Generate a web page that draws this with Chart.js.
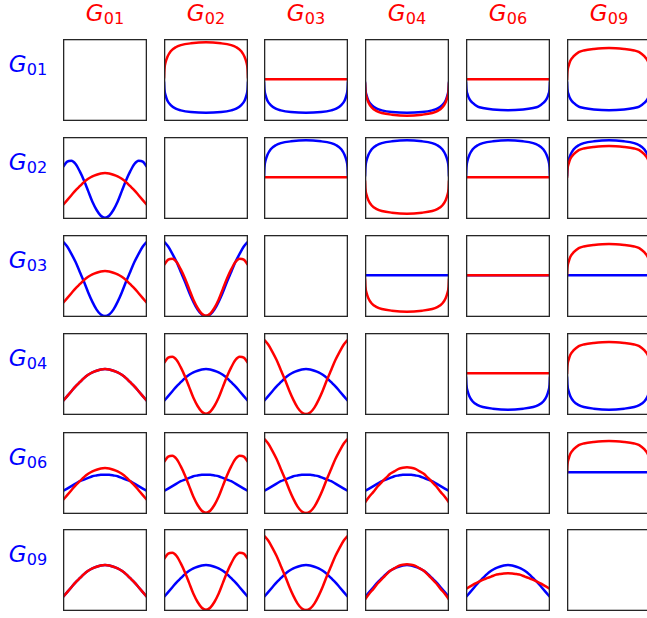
<!DOCTYPE html>
<html>
<head>
<meta charset="utf-8">
<script src="https://cdn.jsdelivr.net/npm/chart.js@4/dist/chart.umd.min.js"></script>
<style>
  html, body { margin: 0; padding: 0; background: #fff; }
  body { width: 647px; height: 618px; position: relative; overflow: hidden; }
  canvas.cell { position: absolute; }
  .lab {
    position: absolute;
    font-family: "DejaVu Sans", sans-serif;
    font-size: 23px;
    line-height: 23px;
    height: 23px;
    white-space: nowrap;
    transform: translateX(-50%);
  }
  .lab sub { font-size: 0.7em; font-style: normal; vertical-align: -3px; line-height: 0; }
  .top { color: #ff0000; }
  .side { color: #0000ff; }
</style>
</head>
<body>
<script>
// etiquetas de filas y columnas
const COLS = ["01", "02", "03", "04", "06", "09"];
const ROWS = ["01", "02", "03", "04", "06", "09"];

// posiciones x de las muestras
const WAVE_X = [0, 0.05, 0.1, 0.15, 0.2, 0.25, 0.3, 0.35, 0.4, 0.45, 0.5, 0.55, 0.6, 0.65, 0.7, 0.75, 0.8, 0.85, 0.9, 0.95, 1];
const EDGE_X = [0, 0.005, 0.02, 0.04, 0.08, 0.14, 0.2, 0.32, 0.5, 0.68, 0.8, 0.86, 0.92, 0.96, 0.98, 0.995, 1];
const FLAT_X = [0, 1];

// curvas (0 = borde inferior, 1 = borde superior)
const HUMP = [0.17, 0.23, 0.29, 0.35, 0.40, 0.45, 0.49, 0.52, 0.54, 0.555, 0.56, 0.555, 0.54, 0.52, 0.49, 0.45, 0.40, 0.35, 0.29, 0.23, 0.17];
const HUMP_TALL = [0.14, 0.21, 0.27, 0.335, 0.39, 0.44, 0.49, 0.52, 0.55, 0.565, 0.57, 0.565, 0.55, 0.52, 0.49, 0.44, 0.39, 0.335, 0.27, 0.21, 0.14];
const FLAT_HUMP = [0.28, 0.31, 0.34, 0.37, 0.40, 0.42, 0.44, 0.46, 0.47, 0.478, 0.48, 0.478, 0.47, 0.46, 0.44, 0.42, 0.40, 0.37, 0.34, 0.31, 0.28];
const FLAT_HUMP_LOW = [0.27, 0.30, 0.33, 0.356, 0.38, 0.40, 0.42, 0.44, 0.45, 0.458, 0.46, 0.458, 0.45, 0.44, 0.42, 0.40, 0.38, 0.356, 0.33, 0.30, 0.27];
const DOUBLE = [0.635, 0.70, 0.71, 0.67, 0.58, 0.47, 0.34, 0.21, 0.11, 0.04, 0.015, 0.04, 0.11, 0.21, 0.34, 0.47, 0.58, 0.67, 0.71, 0.70, 0.635];
const FULL = [0.92, 0.86, 0.77, 0.67, 0.55, 0.43, 0.30, 0.185, 0.09, 0.03, 0.012, 0.03, 0.09, 0.185, 0.30, 0.43, 0.55, 0.67, 0.77, 0.86, 0.92];

const RISE = [0.52, 0.63, 0.72, 0.78, 0.85, 0.90, 0.925, 0.947, 0.96, 0.947, 0.925, 0.90, 0.85, 0.78, 0.72, 0.63, 0.52];
const RISE_LOW = [0.5, 0.6, 0.675, 0.735, 0.79, 0.84, 0.86, 0.878, 0.89, 0.878, 0.86, 0.84, 0.79, 0.735, 0.675, 0.6, 0.5];
const DROP = [0.48, 0.385, 0.31, 0.25, 0.195, 0.15, 0.13, 0.11, 0.10, 0.11, 0.13, 0.15, 0.195, 0.25, 0.31, 0.385, 0.48];
const DROP_SHALLOW = [0.48, 0.39, 0.32, 0.27, 0.22, 0.175, 0.158, 0.14, 0.13, 0.14, 0.158, 0.175, 0.22, 0.27, 0.32, 0.39, 0.48];
const DROP_DEEP = [0.47, 0.37, 0.29, 0.23, 0.165, 0.12, 0.097, 0.077, 0.065, 0.077, 0.097, 0.12, 0.165, 0.23, 0.29, 0.37, 0.47];
const FLAT = [0.51, 0.51];

const SHAPES = {
  HUMP: [WAVE_X, HUMP], HUMP_TALL: [WAVE_X, HUMP_TALL],
  FLAT_HUMP: [WAVE_X, FLAT_HUMP], FLAT_HUMP_LOW: [WAVE_X, FLAT_HUMP_LOW],
  DOUBLE: [WAVE_X, DOUBLE], FULL: [WAVE_X, FULL],
  RISE: [EDGE_X, RISE], RISE_LOW: [EDGE_X, RISE_LOW],
  DROP: [EDGE_X, DROP], DROP_SHALLOW: [EDGE_X, DROP_SHALLOW], DROP_DEEP: [EDGE_X, DROP_DEEP],
  FLAT: [FLAT_X, FLAT]
};

// [azul, rojo] por celda
const GRID = [
  [null, ["DROP", "RISE"], ["DROP", "FLAT"], ["DROP", "DROP_DEEP"], ["DROP_SHALLOW", "FLAT"], ["DROP_SHALLOW", "RISE_LOW"]],
  [["DOUBLE", "HUMP"], null, ["RISE", "FLAT"], ["RISE", "DROP_DEEP"], ["RISE", "FLAT"], ["RISE", "RISE_LOW"]],
  [["FULL", "HUMP"], ["FULL", "DOUBLE"], null, ["FLAT", "DROP_DEEP"], ["FLAT", "FLAT"], ["FLAT", "RISE_LOW"]],
  [["HUMP", "HUMP"], ["HUMP", "DOUBLE"], ["HUMP", "FULL"], null, ["DROP_DEEP", "FLAT"], ["DROP_DEEP", "RISE_LOW"]],
  [["FLAT_HUMP", "HUMP"], ["FLAT_HUMP", "DOUBLE"], ["FLAT_HUMP", "FULL"], ["FLAT_HUMP", "HUMP_TALL"], null, ["FLAT", "RISE_LOW"]],
  [["HUMP", "HUMP"], ["HUMP", "DOUBLE"], ["HUMP", "FULL"], ["HUMP", "HUMP_TALL"], ["HUMP", "FLAT_HUMP_LOW"], null]
];

const COL_LEFT = [63, 164, 264, 365, 466, 567];
const ROW_TOP = [39, 137, 235, 333, 432, 529];
const CELL_W = 84;
const CELL_H = 82;

document.addEventListener("DOMContentLoaded", () => {
  const marco = {
    id: "marco",
    afterDraw(chart) {
      const ctx = chart.ctx;
      ctx.save();
      ctx.strokeStyle = "#262626";
      ctx.lineWidth = 1.3;
      ctx.strokeRect(0.65, 0.65, chart.width - 1.3, chart.height - 1.3);
      ctx.restore();
    }
  };

  function serie(nombre, color) {
    const [xs, ys] = SHAPES[nombre];
    return {
      data: xs.map((x, i) => ({ x: x, y: ys[i] })),
      borderColor: color,
      borderWidth: 2.5,
      pointRadius: 0,
      cubicInterpolationMode: "monotone",
      fill: false
    };
  }

  COLS.forEach((c, j) => {
    const d = document.createElement("div");
    d.className = "lab top";
    d.style.left = (COL_LEFT[j] + CELL_W / 2) + "px";
    d.style.top = "2px";
    d.innerHTML = "<i>G</i><sub>" + c + "</sub>";
    document.body.appendChild(d);
  });
  ROWS.forEach((r, i) => {
    const d = document.createElement("div");
    d.className = "lab side";
    d.style.left = "28px";
    d.style.top = (ROW_TOP[i] + 14) + "px";
    d.innerHTML = "<i>G</i><sub>" + r + "</sub>";
    document.body.appendChild(d);
  });

  for (let i = 0; i < 6; i++) {
    for (let j = 0; j < 6; j++) {
      const cv = document.createElement("canvas");
      cv.className = "cell";
      cv.width = CELL_W;
      cv.height = CELL_H;
      cv.style.left = COL_LEFT[j] + "px";
      cv.style.top = ROW_TOP[i] + "px";
      document.body.appendChild(cv);

      const par = GRID[i][j];
      // el rojo va primero para que quede encima
      const datasets = par ? [serie(par[1], "#ff0000"), serie(par[0], "#0000ff")] : [];
      new Chart(cv.getContext("2d"), {
        type: "line",
        data: { datasets: datasets },
        options: {
          responsive: false,
          animation: false,
          layout: { padding: 0 },
          plugins: { legend: { display: false }, tooltip: { enabled: false } },
          scales: {
            x: { type: "linear", min: 0, max: 1, display: false },
            y: { min: 0, max: 1, display: false }
          }
        },
        plugins: [marco]
      });
    }
  }
});
</script>
</body>
</html>
